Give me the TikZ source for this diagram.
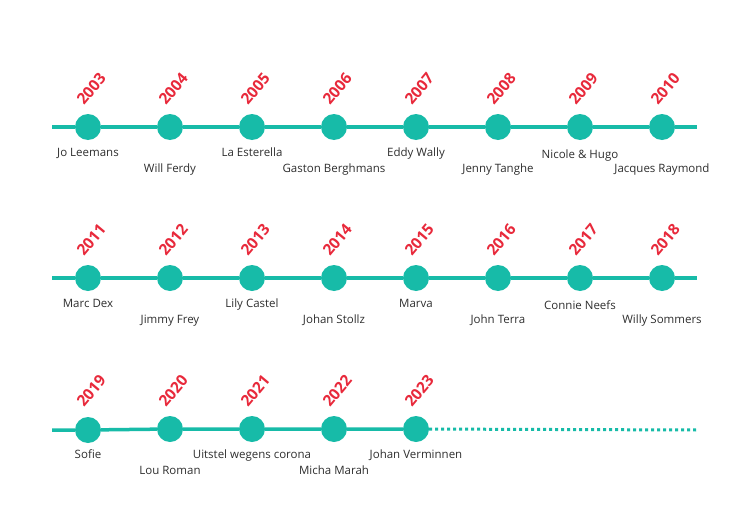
\documentclass[tikz,border=0pt]{standalone}
\usepackage{fontspec}
\setmainfont{Open Sans}
\usepackage{xcolor}
\usepackage{tikz}
\usetikzlibrary{positioning}

\definecolor{dotteal}{HTML}{17BBA8}
\definecolor{yearred}{HTML}{E8293B}
\definecolor{namegray}{HTML}{2E2E2E}

\begin{document}
\begin{tikzpicture}[x=1pt, y=-1pt,
    dot/.style={circle, fill=dotteal, minimum size=26pt, inner sep=0pt},
    yearlbl/.style={rotate=50, anchor=base west, inner sep=0pt, text=yearred, font=\fontsize{15.5}{17}\selectfont\bfseries},
    artist/.style={anchor=base, inner sep=0pt, text=namegray, font=\fontsize{11.5}{13}\selectfont},
    tline/.style={draw=dotteal, line width=3.5pt},
    future/.style={draw=dotteal, line width=3pt, dash pattern=on 3pt off 3pt}
]
    \useasboundingbox (0,0) rectangle (750,530);

    % row 1
    \coordinate (s1) at (52,127);
    \coordinate (e1) at (697,127);
    \node[dot] (c2003) at (88,127) {};
    \node[dot] (c2004) at (170,127) {};
    \node[dot] (c2005) at (252,127) {};
    \node[dot] (c2006) at (334,127) {};
    \node[dot] (c2007) at (416,127) {};
    \node[dot] (c2008) at (498,127) {};
    \node[dot] (c2009) at (580,127) {};
    \node[dot] (c2010) at (662,127) {};
    \draw[tline] (s1) -- (c2003) -- (c2004) -- (c2005) -- (c2006) -- (c2007) -- (c2008) -- (c2009) -- (c2010) -- (e1);

    \node[yearlbl] (y2003) at (84,106) {2003};
    \node[yearlbl] (y2004) at (166,106) {2004};
    \node[yearlbl] (y2005) at (248,106) {2005};
    \node[yearlbl] (y2006) at (330,106) {2006};
    \node[yearlbl] (y2007) at (412,106) {2007};
    \node[yearlbl] (y2008) at (494,106) {2008};
    \node[yearlbl] (y2009) at (576,106) {2009};
    \node[yearlbl] (y2010) at (658,106) {2010};

    \node[artist] (n2003) at (88,156) {Jo Leemans};
    \node[artist] (n2004) at (170,172) {Will Ferdy};
    \node[artist] (n2005) at (252,156) {La Esterella};
    \node[artist] (n2006) at (334,172) {Gaston Berghmans};
    \node[artist] (n2007) at (416,156) {Eddy Wally};
    \node[artist] (n2008) at (498,172) {Jenny Tanghe};
    \node[artist] (n2009) at (580,158) {Nicole \& Hugo};
    \node[artist] (n2010) at (662,172) {Jacques Raymond};

    % row 2
    \coordinate (s2) at (52,278);
    \coordinate (e2) at (697,278);
    \node[dot] (c2011) at (88,278) {};
    \node[dot] (c2012) at (170,278) {};
    \node[dot] (c2013) at (252,278) {};
    \node[dot] (c2014) at (334,278) {};
    \node[dot] (c2015) at (416,278) {};
    \node[dot] (c2016) at (498,278) {};
    \node[dot] (c2017) at (580,278) {};
    \node[dot] (c2018) at (662,278) {};
    \draw[tline] (s2) -- (c2011) -- (c2012) -- (c2013) -- (c2014) -- (c2015) -- (c2016) -- (c2017) -- (c2018) -- (e2);

    \node[yearlbl] (y2011) at (84,257) {2011};
    \node[yearlbl] (y2012) at (166,257) {2012};
    \node[yearlbl] (y2013) at (248,257) {2013};
    \node[yearlbl] (y2014) at (330,257) {2014};
    \node[yearlbl] (y2015) at (412,257) {2015};
    \node[yearlbl] (y2016) at (494,257) {2016};
    \node[yearlbl] (y2017) at (576,257) {2017};
    \node[yearlbl] (y2018) at (658,257) {2018};

    \node[artist] (n2011) at (88,307) {Marc Dex};
    \node[artist] (n2012) at (170,323) {Jimmy Frey};
    \node[artist] (n2013) at (252,307) {Lily Castel};
    \node[artist] (n2014) at (334,323) {Johan Stollz};
    \node[artist] (n2015) at (416,307) {Marva};
    \node[artist] (n2016) at (498,323) {John Terra};
    \node[artist] (n2017) at (580,309) {Connie Neefs};
    \node[artist] (n2018) at (662,323) {Willy Sommers};

    % row 3
    \coordinate (s3) at (52,430);
    \coordinate (e3) at (697,430);
    \node[dot] (c2019) at (88,430) {};
    \node[dot] (c2020) at (170,429) {};
    \node[dot] (c2021) at (252,429) {};
    \node[dot] (c2022) at (334,429) {};
    \node[dot] (c2023) at (416,429) {};
    \draw[tline] (s3) -- (c2019) -- (c2020) -- (c2021) -- (c2022) -- (c2023);
    \draw[future] (c2023) -- (e3);

    \node[yearlbl] (y2019) at (84,408) {2019};
    \node[yearlbl] (y2020) at (166,408) {2020};
    \node[yearlbl] (y2021) at (248,408) {2021};
    \node[yearlbl] (y2022) at (330,408) {2022};
    \node[yearlbl] (y2023) at (412,408) {2023};

    \node[artist] (n2019) at (88,458) {Sofie};
    \node[artist] (n2020) at (170,474) {Lou Roman};
    \node[artist] (n2021) at (252,458) {Uitstel wegens corona};
    \node[artist] (n2022) at (334,474) {Micha Marah};
    \node[artist] (n2023) at (416,458) {Johan Verminnen};
\end{tikzpicture}
\end{document}
